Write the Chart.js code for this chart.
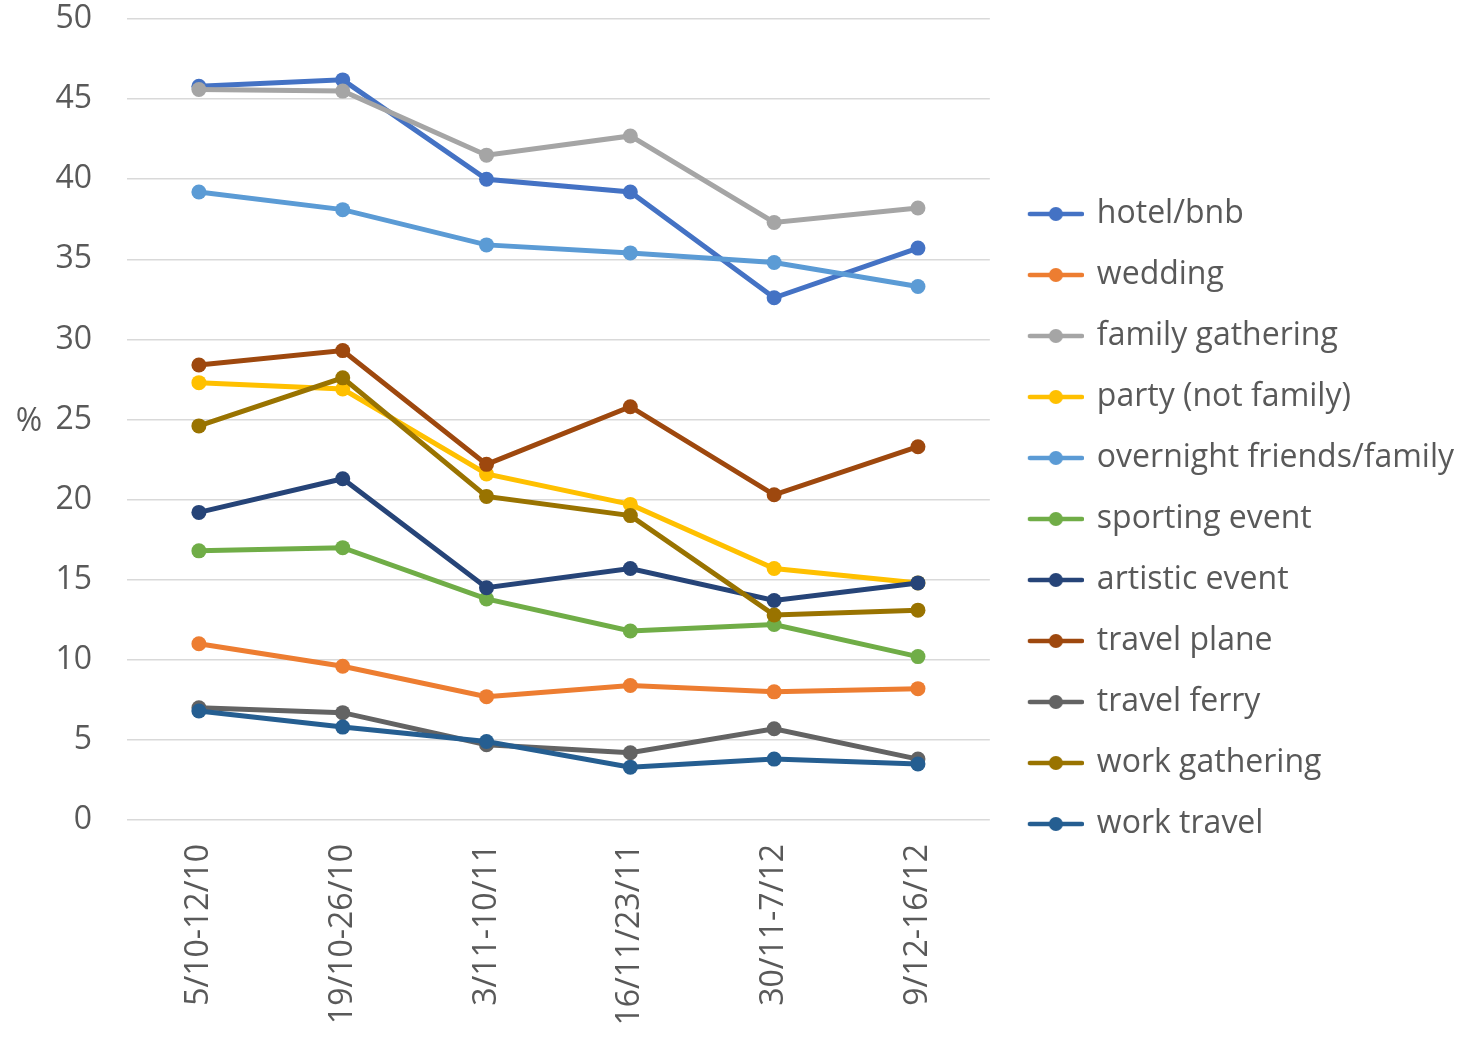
<!DOCTYPE html>
<html>
<head>
<meta charset="utf-8">
<script src="https://cdn.jsdelivr.net/npm/chart.js@4/dist/chart.umd.min.js"></script>
<style>
  html, body { margin: 0; padding: 0; background: #ffffff; }
  #wrap { width: 1471px; height: 1038px; }
</style>
</head>
<body>
<div id="wrap"><canvas id="weeklyChart"></canvas></div>
<script>
var weeks = ["5/10-12/10", "19/10-26/10", "3/11-10/11", "16/11/23/11", "30/11-7/12", "9/12-16/12"];

var hotelBnb = [45.8, 46.2, 40.0, 39.2, 32.6, 35.7];
var wedding = [11.0, 9.6, 7.7, 8.4, 8.0, 8.2];
var familyGathering = [45.6, 45.5, 41.5, 42.7, 37.3, 38.2];
var partyNotFamily = [27.3, 26.9, 21.6, 19.7, 15.7, 14.8];
var overnightFriends = [39.2, 38.1, 35.9, 35.4, 34.8, 33.3];
var sportingEvent = [16.8, 17.0, 13.8, 11.8, 12.2, 10.2];
var artisticEvent = [19.2, 21.3, 14.5, 15.7, 13.7, 14.8];
var travelPlane = [28.4, 29.3, 22.2, 25.8, 20.3, 23.3];
var travelFerry = [7.0, 6.7, 4.7, 4.2, 5.7, 3.8];
var workGathering = [24.6, 27.6, 20.2, 19.0, 12.8, 13.1];
var workTravel = [6.8, 5.8, 4.9, 3.3, 3.8, 3.5];

var yTicks = { min: 0, max: 50, step: 5 };

var seriesNames = [
    "hotel/bnb", "wedding", "family gathering", "party (not family)",
    "overnight friends/family", "sporting event", "artistic event",
    "travel plane", "travel ferry", "work gathering", "work travel",
];
var seriesValues = [
    hotelBnb, wedding, familyGathering, partyNotFamily, overnightFriends,
    sportingEvent, artisticEvent, travelPlane, travelFerry, workGathering, workTravel,
];
var lineColors = [
    "#4472c4", "#ed7d31", "#a5a5a5", "#ffc000", "#5b9bd5", "#70ad47",
    "#264478", "#9e480e", "#636363", "#997300", "#255e91",
];

var fontFamily = "'Open Sans', sans-serif";
var fontSize = 32;
var textColor = "#595959";

// line-with-dot swatch for the legend; the legend centres it on its box,
// so the stroke sits in the right part of a wider image
function legendSwatch(color) {
    var c = document.createElement("canvas");
    c.width = 68;
    c.height = 18;
    var g = c.getContext("2d");
    g.strokeStyle = color;
    g.lineWidth = 4.5;
    g.lineCap = "round";
    g.beginPath();
    g.moveTo(14, 9);
    g.lineTo(66, 9);
    g.stroke();
    g.fillStyle = color;
    g.beginPath();
    g.arc(40, 9, 7, 0, Math.PI * 2);
    g.fill();
    return c;
}
var swatches = lineColors.map(legendSwatch);

var percentLabel = {
    id: "percentLabel",
    afterDraw: function (chart) {
        var ctx = chart.ctx;
        var area = chart.chartArea;
        ctx.save();
        ctx.font = fontSize + "px " + fontFamily;
        ctx.fillStyle = textColor;
        ctx.textAlign = "center";
        ctx.textBaseline = "middle";
        ctx.fillText("%", 29, (area.top + area.bottom) / 2 + 2);
        ctx.restore();
    },
};

new Chart("weeklyChart", {
    type: "line",
    data: {
        labels: weeks,
        datasets: seriesNames.map(function (name, i) {
            return {
                label: name,
                data: seriesValues[i],
                borderColor: lineColors[i],
                backgroundColor: lineColors[i],
                borderWidth: 5,
                pointRadius: 7.5,
                pointBorderWidth: 0,
                pointHoverRadius: 7.5,
                tension: 0,
                // later series are painted over earlier ones
                order: seriesNames.length - i,
            };
        }),
    },
    options: {
        responsive: true,
        maintainAspectRatio: false,
        animation: false,
        layout: {
            padding: { top: 0, right: 7, bottom: 0, left: 0 },
        },
        scales: {
            x: {
                offset: true,
                grid: { display: false },
                border: { display: false },
                ticks: {
                    color: textColor,
                    font: { family: fontFamily, size: fontSize },
                    minRotation: 90,
                    maxRotation: 90,
                    padding: 16,
                },
                afterFit: function (scale) {
                    scale.height = 218;
                },
            },
            y: {
                min: yTicks.min,
                max: yTicks.max,
                grid: {
                    color: "#d9d9d9",
                    lineWidth: 1.5,
                    drawTicks: false,
                },
                border: { display: false },
                ticks: {
                    stepSize: yTicks.step,
                    color: textColor,
                    font: { family: fontFamily, size: fontSize },
                    padding: 35,
                },
                afterFit: function (scale) {
                    scale.width = 127;
                    scale.paddingTop = 19;
                },
            },
        },
        plugins: {
            legend: {
                position: "right",
                // the default cap (a quarter of the width) is too narrow for these labels
                maxWidth: 481,
                labels: {
                    color: textColor,
                    font: { family: fontFamily, size: fontSize },
                    usePointStyle: true,
                    pointStyleWidth: 62,
                    padding: 29,
                    sort: function (a, b) {
                        return a.datasetIndex - b.datasetIndex;
                    },
                    generateLabels: function (chart) {
                        var items = Chart.defaults.plugins.legend.labels.generateLabels(chart);
                        items.forEach(function (item) {
                            item.pointStyle = swatches[item.datasetIndex];
                        });
                        return items;
                    },
                },
            },
            tooltip: { enabled: false },
        },
    },
    plugins: [percentLabel],
});
</script>
</body>
</html>
